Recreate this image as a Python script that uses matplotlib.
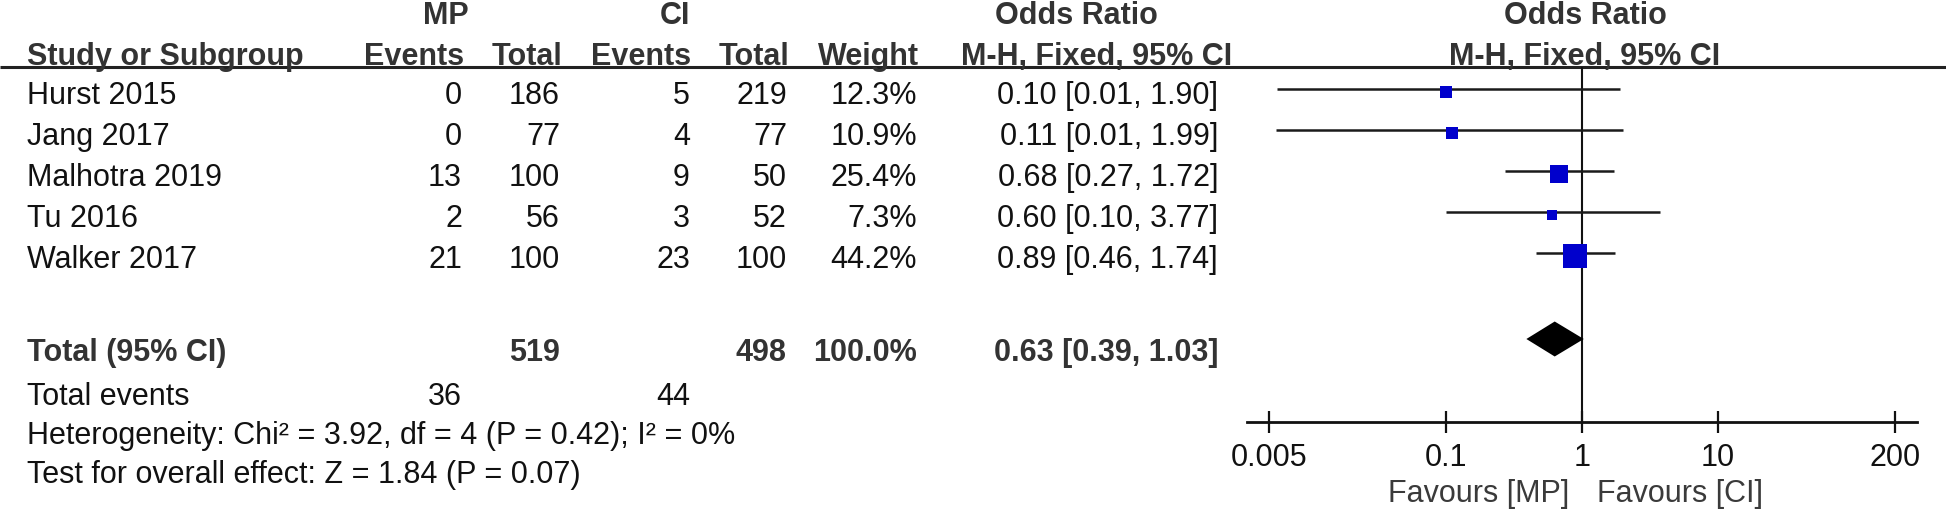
import matplotlib
matplotlib.use("Agg")
import matplotlib.pyplot as plt
import numpy as np

plt.rcParams['font.family'] = ['Liberation Sans', 'DejaVu Sans']

# ---------------- data ----------------
studies = ["Hurst 2015", "Jang 2017", "Malhotra 2019", "Tu 2016", "Walker 2017"]
mp_events = [0, 0, 13, 2, 21]
mp_total = [186, 77, 100, 56, 100]
ci_events = [5, 4, 9, 3, 23]
ci_total = [219, 77, 50, 52, 100]
weights = [12.3, 10.9, 25.4, 7.3, 44.2]
or_text = ["0.10 [0.01, 1.90]", "0.11 [0.01, 1.99]", "0.68 [0.27, 1.72]",
           "0.60 [0.10, 3.77]", "0.89 [0.46, 1.74]"]
or_point = [0.10, 0.11, 0.68, 0.60, 0.89]
ci_low = [0.0057, 0.0056, 0.27, 0.10, 0.46]
ci_high = [1.90, 1.99, 1.72, 3.77, 1.74]

total_mp = 519
total_ci = 498
total_weight = "100.0%"
total_or_text = "0.63 [0.39, 1.03]"
total_or = 0.63
total_low = 0.39
total_high = 1.03
events_mp = 36
events_ci = 44
heterogeneity = "Heterogeneity: Chi\u00b2 = 3.92, df = 4 (P = 0.42); I\u00b2 = 0%"
overall = "Test for overall effect: Z = 1.84 (P = 0.07)"

tick_vals = [0.005, 0.1, 1, 10, 200]
tick_labels = ["0.005", "0.1", "1", "10", "200"]
favours_left = "Favours [MP]"
favours_right = "Favours [CI]"

# ---------------- layout ----------------
W, H = 1946, 511
fig = plt.figure(figsize=(W / 100, H / 100), dpi=100)
tab = fig.add_axes([0, 0, 1, 1])
tab.set_xlim(0, W)
tab.set_ylim(H, 0)
tab.axis('off')

FS = 22
HEAD_C = '#333333'
BODY_C = '#111111'

line_y = 67
row0 = 89
step = 41
row_y = [row0 + i * step for i in range(len(studies))]
total_y = 339
txt_off = 15

# header line
tab.plot([0, W], [line_y, line_y], color='#222222', lw=2.2, solid_capstyle='butt')

# header texts
hb = dict(fontsize=FS, fontweight='bold', color=HEAD_C, va='baseline')
tab.text(446, 24, "MP", ha='center', **hb)
tab.text(675, 24, "CI", ha='center', **hb)
tab.text(1076, 24, "Odds Ratio", ha='center', **hb)
tab.text(1585, 24, "Odds Ratio", ha='center', **hb)
tab.text(27, 65, "Study or Subgroup", ha='left', **hb)
tab.text(464, 65, "Events", ha='right', **hb)
tab.text(562, 65, "Total", ha='right', **hb)
tab.text(691, 65, "Events", ha='right', **hb)
tab.text(789, 65, "Total", ha='right', **hb)
tab.text(919, 65, "Weight", ha='right', **hb)
tab.text(1097, 65, "M-H, Fixed, 95% CI", ha='center', **hb)
tab.text(1585, 65, "M-H, Fixed, 95% CI", ha='center', **hb)

cols_x = dict(ev_mp=462, tot_mp=560, ev_ci=690, tot_ci=787, w=917, orr=1218)
bt = dict(fontsize=FS, color=BODY_C, va='baseline')
for i, s in enumerate(studies):
    yb = row_y[i] + txt_off
    tab.text(27, yb, s, ha='left', **bt)
    tab.text(cols_x['ev_mp'], yb, str(mp_events[i]), ha='right', **bt)
    tab.text(cols_x['tot_mp'], yb, str(mp_total[i]), ha='right', **bt)
    tab.text(cols_x['ev_ci'], yb, str(ci_events[i]), ha='right', **bt)
    tab.text(cols_x['tot_ci'], yb, str(ci_total[i]), ha='right', **bt)
    tab.text(cols_x['w'], yb, f"{weights[i]:.1f}%", ha='right', **bt)
    tab.text(cols_x['orr'], yb, or_text[i], ha='right', **bt)

tb = dict(fontsize=FS, fontweight='bold', color=HEAD_C, va='baseline')
yb = total_y + 22
tab.text(27, yb, "Total (95% CI)", ha='left', **tb)
tab.text(cols_x['tot_mp'], yb, str(total_mp), ha='right', **tb)
tab.text(cols_x['tot_ci'], yb, str(total_ci), ha='right', **tb)
tab.text(cols_x['w'], yb, total_weight, ha='right', **tb)
tab.text(cols_x['orr'], yb, total_or_text, ha='right', **tb)

tab.text(27, 405, "Total events", ha='left', **bt)
tab.text(cols_x['ev_mp'], 405, str(events_mp), ha='right', **bt)
tab.text(cols_x['ev_ci'], 405, str(events_ci), ha='right', **bt)
tab.text(27, 444, heterogeneity, ha='left', **bt)
tab.text(27, 483, overall, ha='left', **bt)

tab.text(1569, 502, favours_left, ha='right', fontsize=FS, color='#3a3a3a', va='baseline')
tab.text(1597, 502, favours_right, ha='left', fontsize=FS, color='#3a3a3a', va='baseline')

# ---------------- forest axes ----------------
x0, x1 = 1247, 1917
ax_bottom, ax_top = 422, line_y
ax = fig.add_axes([x0 / W, (H - ax_bottom) / H, (x1 - x0) / W, (ax_bottom - ax_top) / H])
ax.patch.set_alpha(0)
ax.set_xscale('log')
dec = 2.463
ax.set_xlim(10 ** -dec, 10 ** dec)
ax.set_ylim(ax_bottom, ax_top)
for sp in ['top', 'left', 'right']:
    ax.spines[sp].set_visible(False)
ax.spines['bottom'].set_linewidth(2.0)
ax.spines['bottom'].set_color('#111111')
ax.set_yticks([])
ax.set_xticks(tick_vals)
ax.set_xticklabels(tick_labels)
ax.xaxis.set_minor_locator(matplotlib.ticker.NullLocator())
ax.tick_params(axis='x', direction='inout', length=15.8, width=1.6, pad=7.2,
               labelsize=FS, colors='#111111')

ax.axvline(1, color='#111111', lw=1.5, zorder=1)

for i in range(len(studies)):
    y = row_y[i]
    ax.plot([ci_low[i], ci_high[i]], [y, y], color='#1a1a1a', lw=1.8, zorder=2,
            solid_capstyle='butt')
    side_px = 3.5 * np.sqrt(weights[i])
    ax.plot([or_point[i]], [y + 2.5], marker='s', markersize=side_px * 0.72,
            color='#0000CC', markeredgewidth=0, zorder=3)

dh = 17.5
ax.fill([total_low, total_or, total_high, total_or],
        [total_y, total_y - dh, total_y, total_y + dh],
        color='black', zorder=3, lw=0)

fig.savefig("out.png", dpi=100)
